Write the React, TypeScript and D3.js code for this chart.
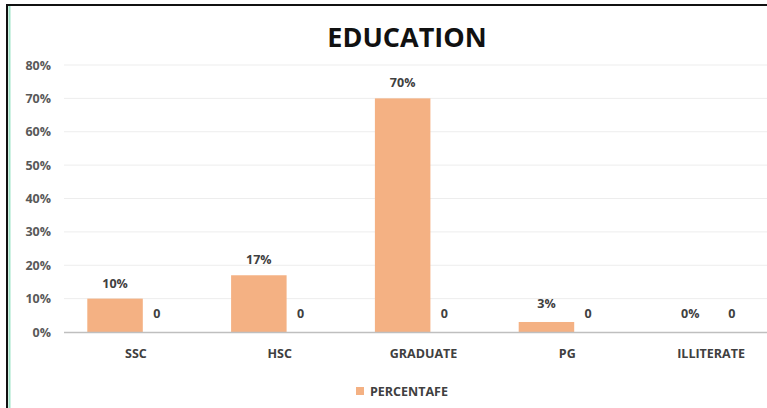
import React from "react";
import * as d3 from "d3";

// Chart data
const categories = ["SSC", "HSC", "GRADUATE", "PG", "ILLITERATE"];
const percentValues = [0.1, 0.17, 0.7, 0.03, 0];
const countValues = [0, 0, 0, 0, 0];
const seriesNames = ["PERCENTAFE", "COUNT"];
const yTicks = [0, 0.1, 0.2, 0.3, 0.4, 0.5, 0.6, 0.7, 0.8];
const chartTitle = "EDUCATION";

const W = 767;
const H = 408;
const FONT = "'Open Sans', 'Noto Sans', sans-serif";
const BAR = "#F4B183";
const TEXT = "#404040";
const SMALL = 12.5;

export default function App() {
  const x = d3.scaleBand<string>().domain(categories).range([64, 783]).padding(0);
  const bw = x.bandwidth();
  // two series side by side inside each category, overlapping slightly
  const xSeries = d3
    .scaleBand<string>()
    .domain(seriesNames)
    .range([bw * 0.21, bw * 0.79]);
  const barWidth = bw * 0.386;
  const y = d3.scaleLinear().domain([0, 0.8]).range([332, 65]);
  const pct = d3.format(".0%");

  const seriesCenter = (cat: string, s: string) =>
    (x(cat) ?? 0) + (xSeries(s) ?? 0) + xSeries.bandwidth() / 2;

  return (
    <svg
      width={W}
      height={H}
      style={{ position: "absolute", left: 0, top: 0, background: "#fff" }}
      fontFamily={FONT}
    >
      {/* frame */}
      <line x1={7} x2={W} y1={5} y2={5} stroke="#111" strokeWidth={2} />
      <line x1={7} x2={7} y1={4} y2={H} stroke="#111" strokeWidth={2} />
      <line x1={9.5} x2={9.5} y1={6} y2={H} stroke="#9FE3C8" strokeWidth={2} />

      <text
        x={407}
        y={47}
        textAnchor="middle"
        fontSize={27}
        fontWeight={700}
        fill="#111"
      >
        {chartTitle}
      </text>

      {/* gridlines and y axis labels */}
      {yTicks.map((t) => (
        <g key={t}>
          {t > 0 && (
            <line
              x1={64}
              x2={W}
              y1={y(t)}
              y2={y(t)}
              stroke="#EDEDED"
              strokeWidth={1}
            />
          )}
          <text
            x={51}
            y={y(t) + 4.5}
            textAnchor="end"
            fontSize={SMALL}
            fontWeight={700}
            fill="#595959"
          >
            {pct(t)}
          </text>
        </g>
      ))}

      {/* bars */}
      {categories.map((c, i) => {
        const cx = seriesCenter(c, seriesNames[0]);
        const v = percentValues[i];
        return (
          <g key={c}>
            <rect
              x={cx - barWidth / 2}
              y={y(v)}
              width={barWidth}
              height={y(0) - y(v)}
              fill={BAR}
            />
            <text
              x={cx}
              y={y(v) - (v > 0.05 ? 11 : 14)}
              textAnchor="middle"
              fontSize={SMALL}
              fontWeight={700}
              fill={TEXT}
            >
              {pct(v)}
            </text>
            <text
              x={seriesCenter(c, seriesNames[1])}
              y={y(countValues[i]) - 14}
              textAnchor="middle"
              fontSize={SMALL}
              fontWeight={700}
              fill={TEXT}
            >
              {countValues[i]}
            </text>
          </g>
        );
      })}

      {/* x axis */}
      <line x1={64} x2={W} y1={y(0) + 0.5} y2={y(0) + 0.5} stroke="#BFBFBF" strokeWidth={1.5} />
      {categories.map((c) => (
        <text
          key={c}
          x={(x(c) ?? 0) + bw / 2}
          y={358}
          textAnchor="middle"
          fontSize={SMALL}
          fontWeight={700}
          fill={TEXT}
        >
          {c}
        </text>
      ))}

      {/* legend */}
      <rect x={356} y={387} width={8} height={8} fill={BAR} />
      <text x={370} y={396} fontSize={SMALL} fontWeight={700} fill={TEXT}>
        {seriesNames[0]}
      </text>
    </svg>
  );
}
